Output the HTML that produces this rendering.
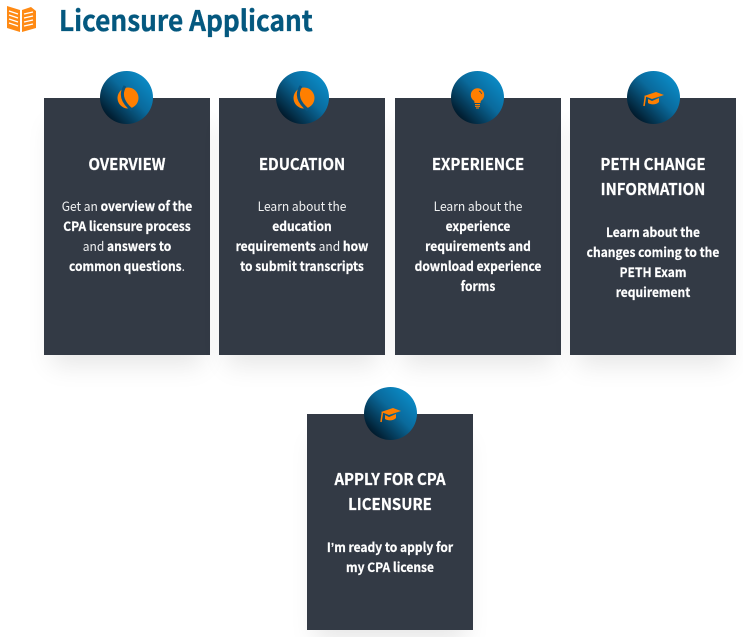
<!DOCTYPE html>
<html><head><meta charset="utf-8">
<style>
html,body{margin:0;padding:0;width:743px;height:637px;overflow:hidden;background:#fff;font-family:"Noto Sans CJK SC","Liberation Sans",sans-serif}
.card{position:absolute;width:166px;background:#333a45;box-shadow:0 18px 24px -8px rgba(0,0,0,.10);color:#fff;text-align:center}
.h{position:absolute;left:0;width:166px;font-size:16px;font-weight:700;line-height:25px;height:25px;white-space:nowrap;transform:scaleX(.935);-webkit-text-stroke:.25px #fff}
.l{position:absolute;left:0;width:166px;font-size:13px;line-height:20px;height:20px;white-space:nowrap;font-weight:400;color:#f0f1f2;transform:scaleX(.925)}
b{font-weight:700;color:#fff;-webkit-text-stroke:.2px #fff}
.c{position:absolute;width:53px;height:53px;border-radius:50%;background:linear-gradient(45deg,#00111f 10%,#0a6a9c 55%,#0b93d1 95%)}
.c svg{position:absolute;left:0;top:0}
.t{position:absolute;left:59px;top:0;font-size:28.5px;line-height:40px;font-weight:700;color:#04587f;white-space:nowrap;transform:scaleX(.92);transform-origin:0 0;-webkit-text-stroke:.35px #04587f}
.a{font-family:"Liberation Sans",sans-serif}
</style></head><body>
<svg style="position:absolute;left:6px;top:5px" width="31" height="28" viewBox="0 0 31 28">
<g fill="#ff8a14"><path d="M1 1 L14 5 V27 L1 23Z"/><path d="M16 5 L25 2 L30 6 V23 L16 27Z"/></g>
<g stroke="#fff" stroke-width="1.2"><path d="M3 6 L12 9 M3 10 L12 13 M3 14 L12 17 M3 18 L12 21 M18 9 L27 7 M18 13 L27 11 M18 17 L27 15 M18 21 L27 19"/></g>
</svg>
<div class="t">Licensure Applicant</div>

<div class="card" style="left:44px;top:98px;height:257px">
<div class="h" style="top:53px">OVERVIEW</div>
<div class="l" style="top:98px">Get an <b>overview of the</b></div>
<div class="l" style="top:118px"><b>CPA licensure process</b></div>
<div class="l" style="top:138px">and <b>answers to</b></div>
<div class="l" style="top:158px"><b>common questions</b>.</div>
</div>
<div class="card" style="left:219px;top:98px;height:257px">
<div class="h" style="top:53px">EDUCATION</div>
<div class="l" style="top:98px">Learn about the</div>
<div class="l" style="top:118px"><b>education</b></div>
<div class="l" style="top:138px"><b>requirements</b> and <b>how</b></div>
<div class="l" style="top:158px"><b>to submit transcripts</b></div>
</div>
<div class="card" style="left:395px;top:98px;height:257px">
<div class="h" style="top:53px">EXPERIENCE</div>
<div class="l" style="top:98px">Learn about the</div>
<div class="l" style="top:118px"><b>experience</b></div>
<div class="l" style="top:138px"><b>requirements and</b></div>
<div class="l" style="top:158px"><b>download experience</b></div>
<div class="l" style="top:178px"><b>forms</b></div>
</div>
<div class="card" style="left:570px;top:98px;height:257px">
<div class="h" style="top:53px">PETH CHANGE</div>
<div class="h" style="top:78px">INFORMATION</div>
<div class="l" style="top:124px"><b>Learn about the</b></div>
<div class="l" style="top:144px"><b>changes coming to the</b></div>
<div class="l" style="top:164px"><b>PETH Exam</b></div>
<div class="l" style="top:184px"><b>requirement</b></div>
</div>
<div class="card" style="left:307px;top:414px;height:216px">
<div class="h" style="top:52px">APPLY FOR CPA</div>
<div class="h" style="top:77px">LICENSURE</div>
<div class="l" style="top:123px"><b>I<span class="a">’</span>m ready to apply for</b></div>
<div class="l" style="top:143px"><b>my CPA license</b></div>
</div>

<div class="c" style="left:100px;top:71px"><svg width="53" height="53"><circle cx="28" cy="27" r="10.5" fill="#ff7f00"/><path d="M25 15 C20 23 22 31 32 39" stroke="#0a5580" stroke-width="3" fill="none"/></svg></div>
<div class="c" style="left:276px;top:71px"><svg width="53" height="53"><circle cx="28" cy="27" r="10.5" fill="#ff7f00"/><path d="M25 15 C20 23 22 31 32 39" stroke="#0a5580" stroke-width="3" fill="none"/></svg></div>
<div class="c" style="left:451px;top:71px"><svg width="53" height="53"><circle cx="26.5" cy="24" r="6.7" fill="#ff7f00"/><path d="M23 28 H30 L29.500 32 H23.500Z" fill="#ff7f00"/><path d="M24 33.500 H29 M24 35.300 H29 M25 37 H28" stroke="#ff7f00" stroke-width="1.100"/><path d="M28 20 A4 4 0 0 1 30.500 23" stroke="#0a5580" stroke-width=".8" fill="none"/></svg></div>
<div class="c" style="left:627px;top:71px"><svg width="53" height="53"><path d="M17 25 L29 21 L37 24 L25 28Z M21 28 L25 30 L32 27 V31 C29 34 24 34 21 32Z" fill="#ff7f00"/><path d="M18.500 25 L17 35" stroke="#ff7f00" stroke-width="1.500"/></svg></div>
<div class="c" style="left:364px;top:387px"><svg width="53" height="53"><path d="M17 25 L29 21 L37 24 L25 28Z M21 28 L25 30 L32 27 V31 C29 34 24 34 21 32Z" fill="#ff7f00"/><path d="M18.500 25 L17 35" stroke="#ff7f00" stroke-width="1.500"/></svg></div>
</body></html>
